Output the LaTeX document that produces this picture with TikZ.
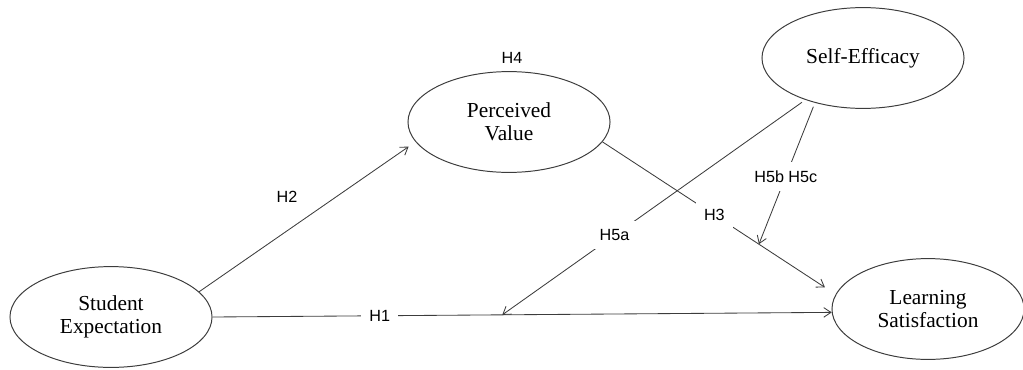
\documentclass[tikz,border=0pt]{standalone}
\usepackage{fontspec}
\setmainfont{Liberation Serif}
\newfontfamily\hypfont{Liberation Sans}
\usetikzlibrary{arrows.meta,shapes.geometric}
\definecolor{pathgray}{HTML}{3C3C3C}

\begin{document}
\begin{tikzpicture}[
    x=0.025cm, y=-0.025cm,
    construct/.style={ellipse, draw=pathgray, line width=0.7pt, align=center,
      minimum width=5.05cm, minimum height=2.52cm, inner sep=0pt,
      font=\fontsize{15.2}{16.5}\selectfont},
    hyp/.style={font=\hypfont\fontsize{11.5}{13}\selectfont, inner sep=6pt},
    gap/.style={hyp, fill=white},
    path/.style={-{Straight Barb[length=1.8mm, width=2.4mm]}, line width=0.6pt, draw=pathgray}
  ]
    \useasboundingbox (0,0) rectangle (1023,369);

    \node[construct] (expect) at (111,317) {Student\\Expectation};
    \node[construct] (value) at (509,122) {Perceived\\Value};
    \node[construct] (efficacy) at (863,58) {Self-Efficacy};
    \node[construct, minimum width=4.8cm] (satisf) at (928,309) {Learning\\Satisfaction};

    \node[hyp, inner sep=0pt] (h4) at (512,58) {H4};
    \node[hyp, inner sep=0pt] (h2) at (287,197) {H2};

    \draw[path, shorten >=6pt] (expect.16) -- (value.192);
    \draw[path] (expect.east) -- node[gap, pos=0.27] (h1) {H1}
      coordinate[pos=0.468] (onh1) (satisf.182);
    \draw[path, shorten >=9pt] (value.-12) -- node[gap, pos=0.48] (h3) {H3}
      coordinate[pos=0.671] (onh3) (satisf.171);
    \draw[path, shorten <=3pt] (efficacy.216) -- node[gap, pos=0.63] (h5a) {H5a} (onh1);
    \draw[path, shorten <=3pt] (efficacy.223) -- node[gap, pos=0.52] (h5bc) {H5b H5c} (onh3);
  \end{tikzpicture}
\end{document}
